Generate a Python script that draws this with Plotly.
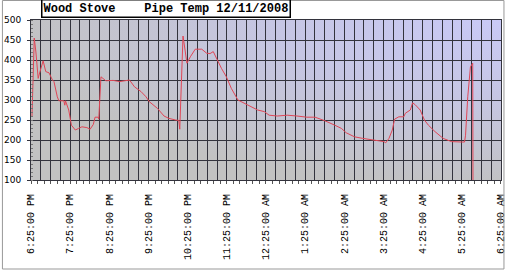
import base64
import pandas as pd
import plotly.graph_objects as go

# ---- data -------------------------------------------------------------
start_time = "2008-12-11 18:25:00"
end_time = "2008-12-12 06:25:00"
# minutes after 6:25 PM
minutes = [1.5, 3.8, 5, 7.5, 11, 13.6, 18.6, 22.6, 27.6, 32.8, 35.2, 40.3, 42.7,
           50.3, 51.8, 52.8, 57.8, 61.9, 67.9, 72.9, 78, 85.6, 90.6, 95.5, 98.1,
           103.1, 103.8, 107.2, 110.6, 114.7, 125.7, 135.8, 150.9, 158.5, 168.6,
           176.2, 181.1, 193.7, 203.8, 211.3, 221.4, 226.4, 227.9, 232.9, 238.9,
           244.1, 251.6, 261.6, 269.1, 274.3, 279.2, 284.2, 291.8, 299.3, 306.9,
           317, 327.1, 337.1, 347.2, 357.3, 364.8, 377.4, 392.5, 407.5, 422.6,
           435.2, 450.3, 465.4, 475.5, 483, 495.5, 508.2, 523.3, 540.8, 543.4,
           548.4, 553.5, 557, 563.5, 571, 573.6, 581.1, 584.6, 588.7, 596.2,
           602.7, 608.8, 618.9, 631.4, 644.1, 659.2, 664.2, 665.7, 669.1, 673.2,
           676.7, 677.1]
pipe_temp = [258, 445, 455, 420, 354, 370, 398, 371, 368, 350, 346, 308, 298,
             298, 287, 298, 275, 237, 225, 229, 233, 231, 227, 239, 257,
             257, 252, 358, 354, 348, 349, 346, 350, 333, 321,
             308, 296, 279, 260, 254, 250, 249, 227, 460, 392,
             408, 427, 427, 417, 416, 421, 404, 379, 358, 329,
             300, 292, 282, 275, 271, 262, 260, 262, 260, 257,
             257, 248, 237, 229, 218, 208, 204, 200, 196, 193,
             204, 225, 252, 258, 258, 267, 275, 293, 288, 275,
             250, 237, 221, 204, 196, 195, 195, 212, 308, 383,
             392, 80]
y_ticks = [100, 150, 200, 250, 300, 350, 400, 450, 500]
title_text = "Wood Stove\u00a0\u00a0\u00a0\u00a0Pipe Temp 12/11/2008"

times = pd.Timestamp(start_time) + pd.to_timedelta(minutes, unit="min")
hour_ticks = [t.strftime("%Y-%m-%d %H:%M:%S")
              for t in pd.date_range(start_time, end_time, freq="h")]
hour_labels = [pd.Timestamp(t).strftime("%-I:%M:%S %p") for t in hour_ticks]
range_end = "2008-12-12 06:25:01"

# ---- background gradient (style only) ---------------------------------
svg = ("<svg xmlns='http://www.w3.org/2000/svg' width='477' height='160' "
       "preserveAspectRatio='none'><defs><radialGradient id='g' cx='1' cy='0' r='1.05' "
       "gradientUnits='objectBoundingBox'><stop offset='0' stop-color='#c9c9f6'/>"
       "<stop offset='0.45' stop-color='#c6c6e4'/>"
       "<stop offset='1' stop-color='#c2c2c2'/></radialGradient></defs>"
       "<rect width='100%' height='100%' fill='url(#g)'/></svg>")
svg_uri = "data:image/svg+xml;base64," + base64.b64encode(svg.encode()).decode()

fig = go.Figure()
fig.add_trace(go.Scatter(x=times, y=pipe_temp, mode="lines",
                         line=dict(color="#e04656", width=1),
                         showlegend=False, hoverinfo="skip"))
fig.add_trace(go.Scatter(x=[], y=[], xaxis="x2", showlegend=False))

grid = "#33333d"
fig.update_layout(
    width=511, height=270,
    margin=dict(l=30, r=4, t=20, b=90),
    paper_bgcolor="white",
    plot_bgcolor="rgba(0,0,0,0)",
    images=[dict(source=svg_uri, xref="paper", yref="paper", x=0, y=1,
                 sizex=1, sizey=1, sizing="stretch", layer="below")],
    xaxis=dict(type="date", range=[start_time, range_end],
               tickmode="array", tickvals=hour_ticks, ticktext=hour_labels,
               tickangle=-90, ticks="", ticklabelstandoff=9,
               ticklabeloverflow="allow",
               tickfont=dict(family="Liberation Mono", size=10, color="black"),
               showgrid=True, gridcolor=grid, gridwidth=1,
               minor=dict(tick0=start_time, dtick=900000, showgrid=True,
                          gridcolor=grid, gridwidth=1),
               showline=True, linecolor=grid, mirror=True, zeroline=False),
    xaxis2=dict(type="date", range=[start_time, range_end], overlaying="x",
                anchor="y", side="bottom", tick0=start_time, dtick=600000,
                ticks="outside", ticklen=3, tickcolor="#555", showticklabels=False,
                showgrid=False, zeroline=False),
    yaxis=dict(range=[100, 500], tickvals=y_ticks, ticks="outside", ticklen=3,
               tickcolor=grid, ticklabelstandoff=4,
               tickfont=dict(family="DejaVu Sans", size=9, color="black"),
               showgrid=True, gridcolor=grid, gridwidth=1,
               minor=dict(dtick=10, ticks="inside", ticklen=2, tickcolor="#777"),
               showline=True, linecolor=grid, mirror=True, zeroline=False),
    annotations=[dict(text="<b>" + title_text + "</b>", xref="paper", yref="paper",
                      x=(40 - 30) / 477, y=1 + 2 / 160, xanchor="left", yanchor="bottom",
                      showarrow=False, bgcolor="white", bordercolor="black",
                      borderwidth=1.5, borderpad=1,
                      font=dict(family="Liberation Mono", size=12, color="black"))],
    shapes=[dict(type="rect", xref="paper", yref="paper",
                 x0=(1 - 30) / 477, x1=(510 - 30) / 477,
                 y0=(180 - 269) / 160, y1=(180 - 0.5) / 160,
                 line=dict(color="#999999", width=1), fillcolor="rgba(0,0,0,0)")],
)

fig.write_html("out.html")
